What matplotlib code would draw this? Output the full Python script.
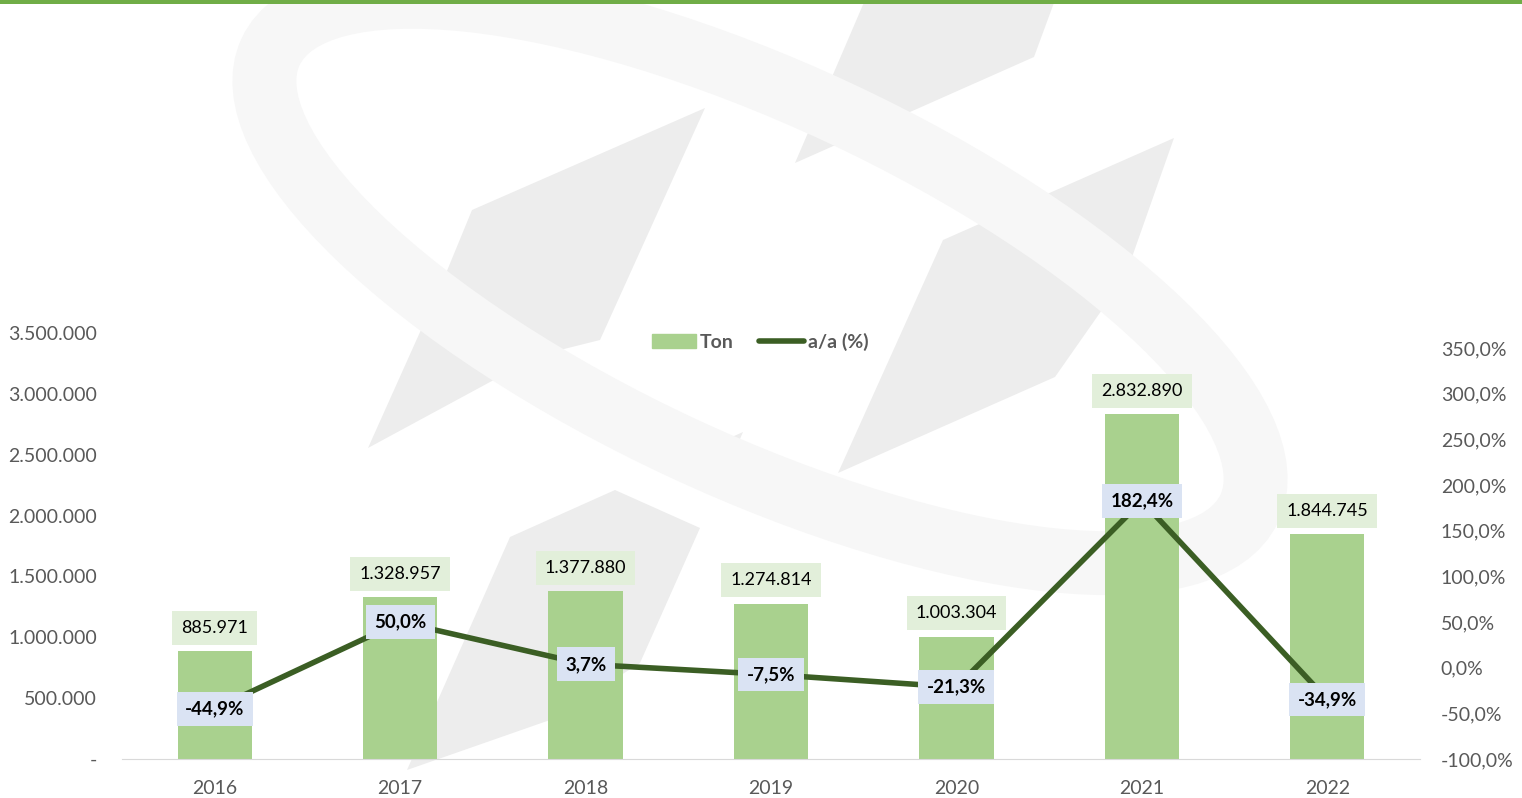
import matplotlib.pyplot as plt
from matplotlib.patches import Rectangle, Polygon, Ellipse
from matplotlib.lines import Line2D
from matplotlib.ticker import FuncFormatter

plt.rcParams['font.family'] = ['Lato', 'DejaVu Sans']

years = ['2016', '2017', '2018', '2019', '2020', '2021', '2022']
ton = [885971, 1328957, 1377880, 1274814, 1003304, 2832890, 1844745]
yoy = [-44.9, 50.0, 3.7, -7.5, -21.3, 182.4, -34.9]

bar_color = '#A9D18E'
line_color = '#3B5E24'
gray = '#595959'


def thousands(v):
    return f'{int(round(v)):,}'.replace(',', '.')


def pct(v):
    return f'{v:.1f}%'.replace('.', ',')


fig = plt.figure(figsize=(15.22, 7.98), dpi=100)

# faint logo watermark in the background (pixel coordinates)
bg = fig.add_axes([0, 0, 1, 1], zorder=-1)
bg.set_xlim(0, 1522)
bg.set_ylim(798, 0)
bg.axis('off')
shapes = [
    [(865, 0), (1055, 0), (1034, 57), (795, 163)],
    [(705, 108), (472, 210), (442, 283), (368, 448), (540, 355), (600, 340)],
    [(1174, 138), (943, 240), (838, 473), (1055, 377), (1125, 277)],
    [(510, 537), (615, 490), (700, 528), (640, 663), (550, 720), (407, 770)],
    [(743, 432), (703, 450), (730, 462)],
]
for pts in shapes:
    bg.add_patch(Polygon(pts, closed=True, fc='#EDEDED', ec='none'))
bg.add_patch(Ellipse((760, 280), 1080, 370, angle=25, fill=False,
                     ec='#F7F7F7', lw=46))
bg.add_patch(Rectangle((0, 0), 1522, 4, color='#70AD47', lw=0))

ax = fig.add_axes([122 / 1522, 1 - 759 / 798, (1420 - 122) / 1522, (759 - 333) / 798])
ax.patch.set_alpha(0)
ax2 = ax.twinx()

x = list(range(len(years)))
ax.bar(x, ton, width=0.4, color=bar_color, zorder=2)
ax.set_xlim(-0.5, len(years) - 0.5)
ax.set_ylim(0, 3500000)
ax.set_yticks(range(0, 3500001, 500000))
ax.yaxis.set_major_formatter(FuncFormatter(lambda v, p: '-' if v == 0 else thousands(v)))
ax.set_xticks(x)
ax.set_xticklabels(years)

for xi, v in zip(x, ton):
    ax.annotate(thousands(v), (xi, v), xytext=(0, 17), textcoords='offset points',
                ha='center', va='center', fontsize=13, color='black', zorder=5,
                bbox=dict(boxstyle='square,pad=0.5', fc='#E2EFDA', ec='none'))

ax2.plot(x, yoy, color=line_color, lw=4, solid_capstyle='round', zorder=3)
ax2.set_ylim(-100, -100 + 450 * 426 / 411)
ax2.set_yticks(range(-100, 351, 50))
ax2.yaxis.set_major_formatter(FuncFormatter(lambda v, p: pct(v)))
for xi, v in zip(x, yoy):
    ax2.annotate(pct(v), (xi, v), ha='center', va='center', fontsize=13.5,
                 fontweight='bold', color='black', zorder=6,
                 bbox=dict(boxstyle='square,pad=0.45', fc='#DAE3F3', ec='none'))

for a in (ax, ax2):
    for s in a.spines.values():
        s.set_visible(False)
    a.tick_params(length=0, labelsize=14, labelcolor=gray)
ax.spines['bottom'].set_visible(True)
ax.spines['bottom'].set_color('#D9D9D9')
ax.tick_params(axis='y', pad=18)
ax.tick_params(axis='x', pad=15)
ax2.tick_params(axis='y', pad=15)

handles = [Rectangle((0, 0), 1, 1, color=bar_color),
           Line2D([0], [0], color=line_color, lw=4, solid_capstyle='round')]
leg = fig.legend(handles, ['Ton', 'a/a (%)'], loc='center', ncol=2,
                 bbox_to_anchor=(760 / 1522, 1 - 342 / 798), frameon=False,
                 handlelength=2.3, handletextpad=0.2, columnspacing=1.3,
                 prop={'size': 14, 'weight': 'bold'})
for t in leg.get_texts():
    t.set_color(gray)

fig.savefig('out.png', dpi=100)
